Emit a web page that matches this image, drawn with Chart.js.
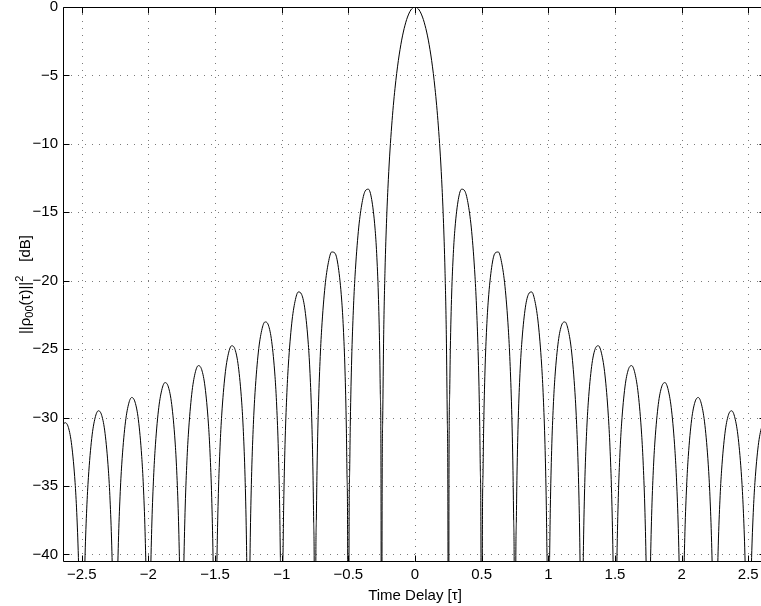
<!DOCTYPE html>
<html><head><meta charset="utf-8">
<script src="https://cdn.jsdelivr.net/npm/chart.js@4.4.1/dist/chart.umd.min.js"></script>
<style>html,body{margin:0;padding:0;overflow:hidden;background:#fff}canvas{display:block}</style>
</head><body>
<canvas id="c" width="768" height="606"></canvas>
<script>
const xTicks = [-2.5,-2,-1.5,-1,-0.5,0,0.5,1,1.5,2,2.5];
const yTicks = [-40,-35,-30,-25,-20,-15,-10,-5,0];
const xLabel = 'Time Delay [\u03c4]';
const yLabelParts = ['||\u03c1', '00', '(\u03c4)||', '2', '[dB]'];

const tau = [
-2.75,
-2.745,-2.74,-2.735,-2.725,-2.7125,-2.7,-2.675,-2.65,-2.625,-2.6,-2.575,-2.55,-2.5375,-2.525,-2.515,-2.51,-2.505,
-2.5,
-2.495,-2.49,-2.485,-2.475,-2.4625,-2.45,-2.425,-2.4,-2.375,-2.35,-2.325,-2.3,-2.2875,-2.275,-2.265,-2.26,-2.255,
-2.25,
-2.245,-2.24,-2.235,-2.225,-2.2125,-2.2,-2.175,-2.15,-2.125,-2.1,-2.075,-2.05,-2.0375,-2.025,-2.015,-2.01,-2.005,
-2,
-1.995,-1.99,-1.985,-1.975,-1.9625,-1.95,-1.925,-1.9,-1.875,-1.85,-1.825,-1.8,-1.7875,-1.775,-1.765,-1.76,-1.755,
-1.75,
-1.745,-1.74,-1.735,-1.725,-1.7125,-1.7,-1.675,-1.65,-1.625,-1.6,-1.575,-1.55,-1.5375,-1.525,-1.515,-1.51,-1.505,
-1.5,
-1.495,-1.49,-1.485,-1.475,-1.4625,-1.45,-1.425,-1.4,-1.375,-1.35,-1.325,-1.3,-1.2875,-1.275,-1.265,-1.26,-1.255,
-1.25,
-1.245,-1.24,-1.235,-1.225,-1.2125,-1.2,-1.175,-1.15,-1.125,-1.1,-1.075,-1.05,-1.0375,-1.025,-1.015,-1.01,-1.005,
-1,
-0.995,-0.99,-0.985,-0.975,-0.9625,-0.95,-0.925,-0.9,-0.875,-0.85,-0.825,-0.8,-0.7875,-0.775,-0.765,-0.76,-0.755,
-0.75,
-0.745,-0.74,-0.735,-0.725,-0.7125,-0.7,-0.675,-0.65,-0.625,-0.6,-0.575,-0.55,-0.5375,-0.525,-0.515,-0.51,-0.505,
-0.5,
-0.495,-0.49,-0.485,-0.475,-0.4625,-0.45,-0.425,-0.4,-0.375,-0.35,-0.325,-0.3,-0.2875,-0.275,-0.265,-0.26,-0.255,
-0.25,
-0.2475,-0.2425,-0.235,-0.225,-0.2125,-0.2,-0.1875,-0.175,-0.1625,-0.15,-0.1375,-0.125,-0.1125,-0.1,-0.0875,-0.075,-0.0625,-0.05,-0.0375,-0.025,-0.0125,
0,
0.0125,0.025,0.0375,0.05,0.0625,0.075,0.0875,0.1,0.1125,0.125,0.1375,0.15,0.1625,0.175,0.1875,0.2,0.2125,0.225,0.235,0.2425,0.2475,
0.25,
0.255,0.26,0.265,0.275,0.2875,0.3,0.325,0.35,0.375,0.4,0.425,0.45,0.4625,0.475,0.485,0.49,0.495,
0.5,
0.505,0.51,0.515,0.525,0.5375,0.55,0.575,0.6,0.625,0.65,0.675,0.7,0.7125,0.725,0.735,0.74,0.745,
0.75,
0.755,0.76,0.765,0.775,0.7875,0.8,0.825,0.85,0.875,0.9,0.925,0.95,0.9625,0.975,0.985,0.99,0.995,
1,
1.005,1.01,1.015,1.025,1.0375,1.05,1.075,1.1,1.125,1.15,1.175,1.2,1.2125,1.225,1.235,1.24,1.245,
1.25,
1.255,1.26,1.265,1.275,1.2875,1.3,1.325,1.35,1.375,1.4,1.425,1.45,1.4625,1.475,1.485,1.49,1.495,
1.5,
1.505,1.51,1.515,1.525,1.5375,1.55,1.575,1.6,1.625,1.65,1.675,1.7,1.7125,1.725,1.735,1.74,1.745,
1.75,
1.755,1.76,1.765,1.775,1.7875,1.8,1.825,1.85,1.875,1.9,1.925,1.95,1.9625,1.975,1.985,1.99,1.995,
2,
2.005,2.01,2.015,2.025,2.0375,2.05,2.075,2.1,2.125,2.15,2.175,2.2,2.2125,2.225,2.235,2.24,2.245,
2.25,
2.255,2.26,2.265,2.275,2.2875,2.3,2.325,2.35,2.375,2.4,2.425,2.45,2.4625,2.475,2.485,2.49,2.495,
2.5,
2.505,2.51,2.515,2.525,2.5375,2.55,2.575,2.6,2.625,2.65,2.675,2.7,2.7125,2.725,2.735,2.74,2.745,
2.75
];

const gainDb = [
-90,
-54.80,-48.78,-45.27,-40.89,-37.51,-35.23,-32.37,-30.89,-30.37,-30.72,-32.04,-34.73,-36.93,-40.23,-44.54,-48.02,-54.00,
-90,
-53.97,-47.95,-44.44,-40.05,-36.67,-34.39,-31.52,-30.03,-29.50,-29.84,-31.15,-33.84,-36.03,-39.32,-43.63,-47.11,-53.09,
-90,
-53.05,-47.03,-43.52,-39.13,-35.74,-33.45,-30.57,-29.07,-28.53,-28.87,-30.16,-32.84,-35.02,-38.31,-42.62,-46.09,-52.07,
-90,
-52.02,-46.00,-42.49,-38.09,-34.70,-32.40,-29.51,-28.00,-27.44,-27.76,-29.04,-31.71,-33.89,-37.17,-41.47,-44.93,-50.91,
-90,
-50.86,-44.83,-41.32,-36.92,-33.51,-31.21,-28.30,-26.77,-26.20,-26.50,-27.76,-30.40,-32.58,-35.85,-40.14,-43.60,-49.57,
-90,
-49.52,-43.49,-39.97,-35.56,-32.14,-29.82,-26.89,-25.34,-24.75,-25.02,-26.26,-28.87,-31.03,-34.29,-38.57,-42.03,-47.99,
-90,
-47.93,-41.89,-38.36,-33.94,-30.51,-28.18,-25.21,-23.63,-23.01,-23.24,-24.44,-27.01,-29.15,-32.39,-36.66,-40.11,-46.07,
-90,
-45.98,-39.94,-36.40,-31.96,-28.51,-26.16,-23.15,-21.51,-20.82,-21.01,-22.15,-24.67,-26.77,-29.97,-34.21,-37.64,-43.58,
-90,
-43.47,-37.41,-33.86,-29.39,-25.90,-23.51,-20.41,-18.68,-17.90,-17.99,-19.02,-21.41,-23.45,-26.59,-30.77,-34.18,-40.09,
-90,
-39.92,-33.83,-30.25,-25.72,-22.15,-19.67,-16.39,-14.47,-13.47,-13.31,-14.06,-16.15,-18.02,-20.97,-25.00,-28.32,-34.16,
-90,
-39.91,-30.21,-23.95,-19.23,-15.39,-12.62,-10.45,-8.69,-7.20,-5.94,-4.86,-3.92,-3.12,-2.42,-1.83,-1.33,-0.91,-0.58,-0.32,-0.14,-0.04,
0,
-0.04,-0.14,-0.32,-0.58,-0.91,-1.33,-1.83,-2.42,-3.12,-3.92,-4.86,-5.94,-7.20,-8.69,-10.45,-12.62,-15.39,-19.23,-23.95,-30.21,-39.91,
-90,
-34.16,-28.32,-25.00,-20.97,-18.02,-16.15,-14.06,-13.31,-13.47,-14.47,-16.39,-19.67,-22.15,-25.72,-30.25,-33.83,-39.92,
-90,
-40.09,-34.18,-30.77,-26.59,-23.45,-21.41,-19.02,-17.99,-17.90,-18.68,-20.41,-23.51,-25.90,-29.39,-33.86,-37.41,-43.47,
-90,
-43.58,-37.64,-34.21,-29.97,-26.77,-24.67,-22.15,-21.01,-20.82,-21.51,-23.15,-26.16,-28.51,-31.96,-36.40,-39.94,-45.98,
-90,
-46.07,-40.11,-36.66,-32.39,-29.15,-27.01,-24.44,-23.24,-23.01,-23.63,-25.21,-28.18,-30.51,-33.94,-38.36,-41.89,-47.93,
-90,
-47.99,-42.03,-38.57,-34.29,-31.03,-28.87,-26.26,-25.02,-24.75,-25.34,-26.89,-29.82,-32.14,-35.56,-39.97,-43.49,-49.52,
-90,
-49.57,-43.60,-40.14,-35.85,-32.58,-30.40,-27.76,-26.50,-26.20,-26.77,-28.30,-31.21,-33.51,-36.92,-41.32,-44.83,-50.86,
-90,
-50.91,-44.93,-41.47,-37.17,-33.89,-31.71,-29.04,-27.76,-27.44,-28.00,-29.51,-32.40,-34.70,-38.09,-42.49,-46.00,-52.02,
-90,
-52.07,-46.09,-42.62,-38.31,-35.02,-32.84,-30.16,-28.87,-28.53,-29.07,-30.57,-33.45,-35.74,-39.13,-43.52,-47.03,-53.05,
-90,
-53.09,-47.11,-43.63,-39.32,-36.03,-33.84,-31.15,-29.84,-29.50,-30.03,-31.52,-34.39,-36.67,-40.05,-44.44,-47.95,-53.97,
-90,
-54.00,-48.02,-44.54,-40.23,-36.93,-34.73,-32.04,-30.72,-30.37,-30.89,-32.37,-35.23,-37.51,-40.89,-45.27,-48.78,-54.80,
-90
];

const FONT = "'Liberation Sans', Arial, Helvetica, sans-serif";
const fmt = v => String(v).replace('-', '\u2212');

const framePlugin = {
  id: 'matlabFrame',
  beforeDatasetsDraw(chart) {
    const {ctx, chartArea: a, scales: {x, y}} = chart;
    ctx.save();
    ctx.strokeStyle = '#7a7a7a';
    ctx.lineWidth = 1;
    ctx.setLineDash([1, 6]);
    ctx.beginPath();
    xTicks.forEach(v => {
      const px = Math.round(x.getPixelForValue(v)) + 0.5;
      ctx.moveTo(px, a.top); ctx.lineTo(px, a.bottom);
    });
    yTicks.forEach(v => {
      const py = Math.round(y.getPixelForValue(v)) + 0.5;
      ctx.moveTo(a.left, py); ctx.lineTo(a.right, py);
    });
    ctx.stroke();
    ctx.restore();
  },
  afterDatasetsDraw(chart) {
    const {ctx, chartArea: a, scales: {x, y}} = chart;
    const L = Math.round(a.left) - 0.5, R = Math.round(a.right) - 0.5;
    const T = Math.round(a.top) + 0.5, B = Math.round(a.bottom) - 0.5;
    ctx.save();
    ctx.strokeStyle = '#000';
    ctx.lineWidth = 1;
    ctx.setLineDash([]);
    ctx.beginPath();
    ctx.rect(L, T, R - L, B - T);
    const tl = 6;
    xTicks.forEach(v => {
      const px = Math.round(x.getPixelForValue(v)) + 0.5;
      ctx.moveTo(px, B); ctx.lineTo(px, B - tl);
      ctx.moveTo(px, T); ctx.lineTo(px, T + tl);
    });
    yTicks.forEach(v => {
      const py = Math.round(y.getPixelForValue(v)) + 0.5;
      ctx.moveTo(L, py); ctx.lineTo(L + tl, py);
      ctx.moveTo(R, py); ctx.lineTo(R - tl, py);
    });
    ctx.stroke();
    ctx.restore();
  },
  afterDraw(chart) {
    const {ctx, chartArea: a} = chart;
    ctx.save();
    ctx.fillStyle = '#000';
    ctx.textBaseline = 'alphabetic';
    // x label
    ctx.font = '15px ' + FONT;
    ctx.textAlign = 'center';
    ctx.fillText(xLabel, (a.left + a.right) / 2, 599.5);
    // y label with subscript/superscript
    ctx.textAlign = 'left';
    const parts = [
      {t: yLabelParts[0], s: 15, dy: 0, after: 0},
      {t: yLabelParts[1], s: 11, dy: 3, after: 0},
      {t: yLabelParts[2], s: 15, dy: 0, after: 0},
      {t: yLabelParts[3], s: 11, dy: -7, after: 14},
      {t: yLabelParts[4], s: 15, dy: 0, after: 0}
    ];
    let total = 0;
    parts.forEach(p => { ctx.font = p.s + 'px ' + FONT; p.w = ctx.measureText(p.t).width; total += p.w + p.after; });
    ctx.translate(29.5, (a.top + a.bottom) / 2);
    ctx.rotate(-Math.PI / 2);
    let cx = -total / 2;
    parts.forEach(p => { ctx.font = p.s + 'px ' + FONT; ctx.fillText(p.t, cx, p.dy); cx += p.w + p.after; });
    ctx.restore();
  }
};

new Chart(document.getElementById('c'), {
  type: 'line',
  data: {
    datasets: [{
      data: tau.map((t, i) => ({x: t, y: gainDb[i]})),
      borderColor: '#000',
      borderWidth: 1,
      pointRadius: 0,
      fill: false,
      cubicInterpolationMode: 'monotone',
      clip: 0
    }]
  },
  options: {
    responsive: false,
    animation: false,
    devicePixelRatio: 1,
    layout: {padding: {top: 7, right: 2, left: 0, bottom: 0}},
    plugins: {legend: {display: false}, tooltip: {enabled: false}},
    scales: {
      x: {
        type: 'linear', min: -2.633, max: 2.633,
        afterBuildTicks: s => { s.ticks = xTicks.map(v => ({value: v})); },
        afterFit: s => { s.height = 44; s.paddingLeft = 0; s.paddingRight = 0; },
        grid: {display: false, drawTicks: false},
        border: {display: false},
        ticks: {font: {family: FONT, size: 15}, color: '#000', padding: 4, maxRotation: 0, autoSkip: false, callback: v => fmt(v)}
      },
      y: {
        type: 'linear', min: -40.55, max: 0,
        afterBuildTicks: s => { s.ticks = yTicks.map(v => ({value: v})); },
        afterFit: s => { s.width = 64; s.paddingTop = 0; s.paddingBottom = 0; },
        grid: {display: false, drawTicks: false},
        border: {display: false},
        ticks: {font: {family: FONT, size: 15}, color: '#000', padding: 6, autoSkip: false, callback: v => fmt(v)}
      }
    }
  },
  plugins: [framePlugin]
});
</script>
</body></html>
